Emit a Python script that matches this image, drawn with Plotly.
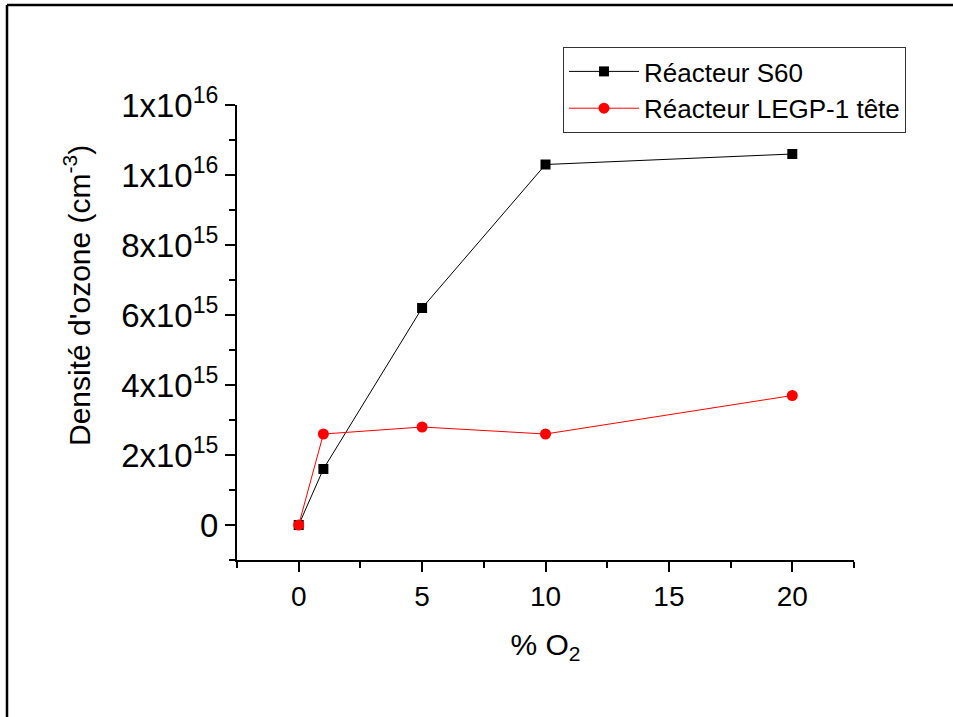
import plotly.graph_objects as go

# Data
o2_percent = [0, 1, 5, 10, 20]
s60_density = [0, 1.6e15, 6.2e15, 1.03e16, 1.06e16]
legp_density = [0, 2.6e15, 2.8e15, 2.6e15, 3.7e15]

series_names = ["Réacteur S60", "Réacteur LEGP-1 tête"]

y_tickvals = [0, 2e15, 4e15, 6e15, 8e15, 1e16, 1.2e16]
y_ticktext = ["0", "2x10<sup>15</sup>", "4x10<sup>15</sup>", "6x10<sup>15</sup>",
              "8x10<sup>15</sup>", "1x10<sup>16</sup>", "1x10<sup>16</sup>"]
x_tickvals = [0, 5, 10, 15, 20]
x_ticktext = ["0", "5", "10", "15", "20"]

FONT = "Liberation Sans, Arial, sans-serif"

fig = go.Figure()
fig.add_trace(go.Scatter(
    x=o2_percent, y=s60_density, name=series_names[0],
    mode="lines+markers",
    line=dict(color="black", width=1),
    marker=dict(symbol="square", size=10, color="black"),
))
fig.add_trace(go.Scatter(
    x=o2_percent, y=legp_density, name=series_names[1],
    mode="lines+markers",
    line=dict(color="red", width=1),
    marker=dict(symbol="circle", size=11, color="red"),
))

W, H = 953, 717
L, R, T, B = 237, 854, 105, 560


def px(x):
    return (x - L) / (R - L)


def py(y):
    return (B - y) / (B - T)


fig.update_layout(
    width=W, height=H,
    margin=dict(l=L, r=W - R, t=T, b=H - B),
    paper_bgcolor="white", plot_bgcolor="white",
    font=dict(family=FONT, color="black"),
    showlegend=True,
    legend=dict(
        x=px(563), y=py(47), xanchor="left", yanchor="top",
        bordercolor="#333333", borderwidth=1,
        font=dict(size=26, family=FONT, color="black"),
        bgcolor="white", tracegroupgap=0, itemwidth=70,
    ),
    xaxis=dict(
        range=[-2.5, 22.5],
        tickvals=x_tickvals, ticktext=x_ticktext,
        ticks="outside", ticklen=10, tickwidth=2, tickcolor="black",
        minor=dict(dtick=2.5, tick0=0, ticks="outside", ticklen=6, tickwidth=2, tickcolor="black"),
        showline=True, linewidth=2, linecolor="black",
        showgrid=False, zeroline=False,
        tickfont=dict(size=28, family=FONT, color="black"),
        title=dict(text="% O<sub>2</sub>", font=dict(size=30, family=FONT, color="black"), standoff=23),
    ),
    yaxis=dict(
        range=[-1e15, 1.2e16],
        tickvals=y_tickvals, ticktext=y_ticktext,
        ticks="outside", ticklen=10, tickwidth=2, tickcolor="black",
        minor=dict(dtick=1e15, tick0=0, ticks="outside", ticklen=6, tickwidth=2, tickcolor="black"),
        showline=True, linewidth=2, linecolor="black",
        showgrid=False, zeroline=False,
        tickfont=dict(size=33, family=FONT, color="black"),
    ),
    annotations=[
        dict(
            text="Densité d'ozone (cm<sup>-3</sup>)",
            xref="paper", yref="paper", x=px(77), y=py(296),
            xanchor="center", yanchor="middle", textangle=-90, showarrow=False,
            font=dict(size=30, family=FONT, color="black"),
        )
    ],
    shapes=[
        dict(type="line", xref="paper", yref="paper",
             x0=px(7), y0=py(5), x1=px(970), y1=py(5),
             line=dict(color="black", width=2.5)),
        dict(type="line", xref="paper", yref="paper",
             x0=px(7), y0=py(5), x1=px(7), y1=py(740),
             line=dict(color="black", width=2.5)),
    ],
)

fig.write_html(
    "out.html",
    config={"displayModeBar": False},
    post_script="document.body.style.margin='0';document.body.style.padding='0';",
)
